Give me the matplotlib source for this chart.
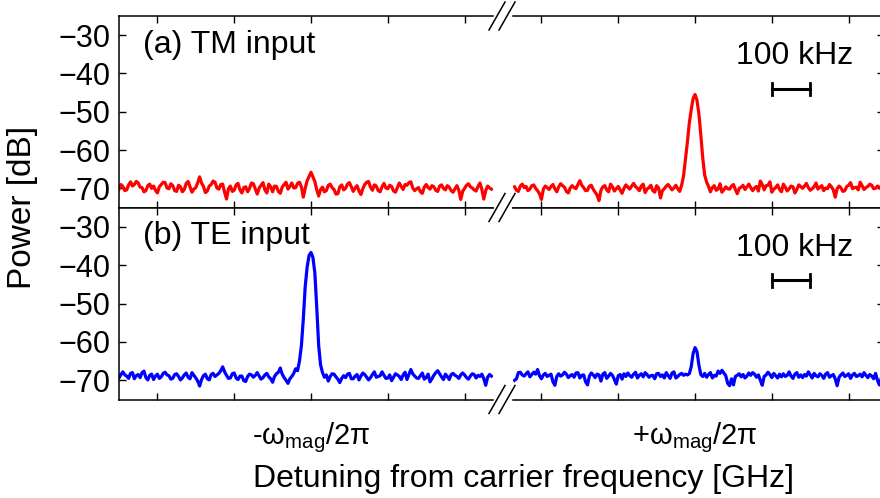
import numpy as np
import matplotlib
matplotlib.use("Agg")
import matplotlib.pyplot as plt
from matplotlib.lines import Line2D

plt.rcParams['font.family'] = ['Liberation Sans', 'DejaVu Sans']
plt.rcParams['mathtext.fontset'] = 'custom'
plt.rcParams['mathtext.rm'] = 'Liberation Sans'
plt.rcParams['mathtext.it'] = 'Liberation Sans'
plt.rcParams['mathtext.bf'] = 'Liberation Sans:bold'

# Detuning grids (kHz) around each sideband, 5 kHz steps
det_minus = np.arange(-500, 471, 5)   # around -w_mag/2pi
det_plus = np.arange(-470, 491, 5)    # around +w_mag/2pi

# (a) TM input, spectrum near -w_mag/2pi [dB]
tm_minus = [
    -70.2, -69.0, -69.5, -70.6, -70.4, -69.1, -68.3, -69.4, -69.0, -68.2,
    -68.6, -69.7, -69.8, -70.9, -70.6, -69.3, -68.9, -70.0, -69.4, -70.5,
    -71.2, -69.6, -69.0, -68.4, -68.5, -69.9, -70.1, -68.8, -69.3, -70.6,
    -70.8, -69.2, -69.6, -70.9, -70.3, -68.7, -68.2, -69.6, -71.0, -70.2,
    -69.8, -68.5, -67.0, -68.6, -69.5, -71.1, -70.7, -69.4, -69.0, -68.1,
    -68.4, -69.9, -70.2, -69.0, -68.9, -71.0, -72.8, -70.1, -69.4, -70.8,
    -70.5, -69.1, -68.7, -70.4, -71.2, -69.8, -69.6, -70.9, -70.0, -68.6,
    -68.8, -70.2, -71.5, -69.9, -69.2, -68.5, -70.4, -71.2, -68.9, -69.6,
    -70.9, -69.4, -69.5, -70.8, -71.3, -69.7, -69.0, -68.4, -70.2, -69.5,
    -68.6, -69.9, -69.8, -68.7, -68.4, -69.6, -72.3, -70.0, -68.0, -66.9,
    -65.8, -67.0, -68.2, -70.4, -72.0, -70.3, -69.7, -70.9, -70.6, -69.2,
    -68.9, -69.8, -70.3, -71.5, -71.4, -69.6, -69.1, -70.4, -70.0, -68.9,
    -68.5, -69.6, -70.8, -69.9, -69.3, -70.7, -71.6, -70.1, -69.0, -68.4,
    -68.2, -69.7, -70.5, -69.1, -69.4, -70.6, -70.9, -69.6, -68.7, -69.9,
    -70.1, -69.2, -69.5, -70.7, -71.0, -69.8, -68.6, -69.5, -70.3, -69.0,
    -69.2, -68.5, -68.3, -69.9, -70.6, -70.1, -69.8, -70.9, -71.3, -69.7,
    -69.0, -69.8, -70.2, -69.3, -69.6, -70.5, -70.8, -69.4, -69.1, -70.0,
    -70.4, -69.3, -69.7, -70.6, -71.0, -70.1, -69.3, -70.5, -72.9, -70.8,
    -70.0, -69.2, -68.8, -69.6, -69.9, -70.4, -70.7, -69.5, -68.6, -70.3,
    -72.8, -70.6, -69.4, -69.9, -70.2,
]

# (a) TM input, spectrum near +w_mag/2pi [dB]
tm_plus = [
    -69.6, -70.5, -70.8, -69.4, -68.9, -69.8, -69.5, -70.6, -70.2, -69.3,
    -69.1, -70.0, -70.6, -71.4, -72.9, -70.2, -69.4, -69.8, -70.3, -69.5,
    -69.0, -70.1, -70.9, -69.6, -68.8, -69.3, -69.7, -70.8, -71.2, -69.9,
    -69.3, -69.8, -70.1, -69.0, -68.0, -69.2, -69.8, -70.6, -70.5, -69.4,
    -69.2, -70.3, -71.0, -71.8, -73.2, -70.5, -69.6, -69.3, -70.4, -70.9,
    -68.9, -69.6, -70.7, -70.1, -69.5, -70.4, -71.3, -70.0, -69.1, -69.7,
    -70.2, -69.4, -68.7, -69.5, -70.0, -70.6, -69.4, -68.9, -71.1, -70.2,
    -69.8, -69.2, -70.6, -71.0, -69.3, -69.9, -72.5, -70.6, -70.1, -69.4,
    -69.0, -69.7, -70.4, -69.9, -69.2, -70.1, -70.8, -69.2, -66.8, -62.5,
    -58.0, -53.0, -49.5, -46.5, -45.5, -47.0, -50.5, -56.0, -62.0, -66.5,
    -68.3, -69.5, -70.9, -69.8, -69.3, -70.5, -70.2, -68.8, -71.0, -70.4,
    -69.6, -70.1, -70.2, -69.4, -69.0, -70.3, -71.4, -70.0, -69.7, -69.2,
    -70.3, -69.6, -68.9, -69.8, -70.6, -69.9, -69.5, -70.7, -68.1, -69.0,
    -70.4, -69.3, -69.2, -68.3, -71.0, -70.2, -69.8, -69.1, -70.3, -70.9,
    -68.9, -69.7, -70.7, -70.1, -69.4, -69.6, -71.2, -70.3, -69.1, -69.5,
    -70.0, -69.4, -68.7, -69.8, -70.5, -70.1, -69.6, -68.6, -70.2, -69.7,
    -69.3, -70.6, -69.9, -70.1, -69.0, -69.6, -70.4, -72.3, -70.1, -69.4,
    -69.9, -70.8, -70.6, -69.5, -69.2, -68.5, -70.1, -69.8, -69.7, -70.4,
    -68.4, -69.3, -70.3, -69.8, -69.5, -68.9, -69.2, -70.1, -70.0, -69.4,
    -69.7, -70.3, -69.5,
]

# (b) TE input, spectrum near -w_mag/2pi [dB]
te_minus = [
    -69.4, -68.5, -67.8, -68.6, -68.9, -69.5, -68.2, -68.0, -69.6, -68.8,
    -68.5, -69.3, -68.0, -67.6, -69.3, -69.9, -68.7, -68.4, -69.8, -68.9,
    -68.4, -69.5, -69.1, -68.2, -67.9, -68.6, -68.8, -69.7, -69.5, -68.5,
    -68.3, -69.0, -69.9, -69.4, -68.6, -68.1, -69.2, -69.6, -68.0, -68.7,
    -69.4, -70.2, -71.5, -69.8, -68.8, -68.4, -69.6, -69.9, -68.5, -68.2,
    -69.0, -68.6, -68.2, -67.5, -66.5, -67.8, -68.7, -69.5, -69.4, -68.3,
    -68.1, -69.4, -69.8, -68.9, -68.9, -70.1, -70.3, -69.0, -68.4, -68.6,
    -69.2, -68.7, -68.0, -68.9, -69.7, -69.3, -68.6, -68.2, -69.1, -69.6,
    -70.5, -69.0, -68.3, -67.9, -66.8, -68.4, -69.3, -70.0, -70.8, -69.6,
    -69.0, -68.2, -67.0, -67.5, -65.0, -61.0, -54.0, -45.5, -40.5, -37.5,
    -36.7, -38.0, -42.0, -51.0, -61.0, -66.0, -68.0, -69.2, -68.6, -70.2,
    -69.0, -68.3, -68.4, -69.1, -69.7, -70.6, -69.5, -68.8, -69.3, -68.4,
    -68.2, -69.6, -69.6, -68.9, -68.5, -69.9, -68.9, -68.1, -68.5, -69.2,
    -69.9, -69.3, -68.5, -67.8, -69.2, -69.0, -68.8, -67.8, -68.7, -69.5,
    -69.4, -68.6, -70.1, -69.2, -68.3, -68.6, -69.0, -69.8, -68.6, -67.9,
    -69.8, -68.5, -67.2, -68.3, -68.9, -69.4, -69.5, -68.8, -68.1, -69.7,
    -69.3, -68.4, -70.4, -69.6, -68.7, -68.0, -67.5, -68.3, -69.1, -69.8,
    -68.4, -69.0, -69.8, -68.5, -68.2, -68.7, -69.0, -69.5, -68.6, -68.1,
    -68.6, -69.3, -69.7, -68.9, -68.3, -68.5, -69.4, -68.7, -69.0, -68.4,
    -69.6, -71.3, -69.2, -68.5, -68.9,
]

# (b) TE input, spectrum near +w_mag/2pi [dB]
te_plus = [
    -70.0, -69.6, -68.0, -67.9, -68.6, -68.9, -68.3, -67.8, -69.1, -68.5,
    -67.9, -68.4, -67.2, -68.8, -69.6, -68.6, -68.2, -69.0, -68.7, -68.4,
    -70.4, -71.3, -69.0, -68.3, -68.9, -68.6, -67.9, -68.4, -69.3, -68.8,
    -68.5, -69.2, -68.1, -68.0, -69.4, -68.7, -68.6, -70.4, -71.2, -68.9,
    -68.1, -68.6, -69.3, -68.4, -68.6, -70.2, -68.4, -68.0, -69.5, -68.9,
    -68.2, -68.7, -69.8, -71.0, -68.8, -68.5, -69.7, -68.3, -69.0, -68.1,
    -68.8, -69.2, -68.4, -67.9, -69.4, -68.7, -68.3, -69.1, -68.0, -68.5,
    -69.2, -68.8, -68.7, -69.6, -68.3, -68.2, -69.0, -68.6, -69.4, -68.0,
    -68.8, -69.5, -68.1, -67.8, -69.4, -69.0, -68.5, -68.2, -68.7, -68.4,
    -68.6, -68.3, -66.5, -63.0, -61.5, -62.5, -66.0, -68.5, -69.0, -68.2,
    -69.2, -68.5, -68.0, -69.4, -68.7, -68.9, -67.6, -68.2, -67.4, -68.1,
    -68.8, -70.8, -71.4, -69.6, -71.2, -69.0, -68.7, -68.3, -69.1, -68.5,
    -69.4, -68.9, -68.1, -68.7, -68.0, -68.4, -69.2, -68.6, -70.0, -71.3,
    -69.0, -68.6, -67.9, -68.5, -69.3, -68.2, -68.8, -69.4, -68.4, -69.1,
    -68.3, -69.0, -68.7, -67.8, -68.9, -69.5, -68.4, -68.0, -69.2, -68.6,
    -69.3, -68.5, -68.9, -67.8, -68.6, -69.4, -68.2, -68.8, -69.1, -68.3,
    -68.7, -69.5, -68.4, -68.0, -69.2, -68.8, -68.5, -69.6, -71.4, -69.2,
    -68.6, -68.1, -69.0, -68.7, -68.3, -69.5, -68.6, -68.2, -69.0, -68.8,
    -68.4, -69.1, -68.0, -68.7, -69.3, -68.5, -68.9, -69.6, -68.2, -70.0,
    -71.2, -69.4, -70.3,
]

line_colors = ['#ff0000', '#0000ff']
panel_labels = ['(a) TM input', '(b) TE input']
sideband_labels = [r'-$\mathregular{\omega_{mag}}$/2π', r'+$\mathregular{\omega_{mag}}$/2π']
yticks = [-30, -40, -50, -60, -70]
xticks = [-400, -200, 0, 200, 400]
scale_bar = (200, 300)  # kHz

W, H = 880, 498
fig = plt.figure(figsize=(W / 100, H / 100), dpi=100)


def fx(px):
    return px / W


def fy(py):
    return 1 - py / H


rows = [(16, 207.5), (207.5, 399.5)]
cols = [(119, 493), (513, 884)]
xlims = [(-500, 474), (-474, 492)]

series = [[tm_minus, tm_plus], [te_minus, te_plus]]
grids = [det_minus, det_plus]

for r, (ytop, ybot) in enumerate(rows):
    for c, (xl, xr) in enumerate(cols):
        ax = fig.add_axes([fx(xl), fy(ybot), fx(xr - xl), fy(ytop) - fy(ybot)])
        ax.plot(grids[c], series[r][c], color=line_colors[r], lw=2.3)
        ax.set_xlim(*xlims[c])
        ax.set_ylim(-75, -25)
        for s in ax.spines.values():
            s.set_linewidth(1.1)
        ax.set_xticks(xticks)
        ax.set_yticks(yticks)
        ax.tick_params(direction='in', length=5, width=1.0, top=True, bottom=True,
                       labelsize=22, pad=6)
        if c == 0:
            ax.spines['right'].set_visible(False)
            ax.tick_params(axis='y', left=True, right=False)
        else:
            ax.spines['left'].set_visible(False)
            ax.tick_params(axis='y', left=False, right=True, labelleft=False)
        if r == 1:
            labs = ['', '', sideband_labels[c], '', '']
            ax.set_xticklabels(labs)
            ax.tick_params(axis='x', labelsize=21, pad=15)
        else:
            ax.set_xticklabels([])
        if c == 0:
            ax.text(0.064, 0.85, panel_labels[r], transform=ax.transAxes,
                    fontsize=23, ha='left', va='center')
        else:
            ax.plot(scale_bar, [-44, -44], color='black', lw=2.2)
            for xb in scale_bar:
                ax.plot([xb, xb], [-45.6, -42.4], color='black', lw=2.0)
            ax.text(np.mean(scale_bar) + 8, -35.5, '100 kHz', fontsize=23,
                    ha='center', va='center')

# axis-break marks
for yb in (16, 207.5, 399.5):
    for x0 in (489, 499):
        fig.add_artist(Line2D([fx(x0), fx(x0 + 16)], [fy(yb + 14), fy(yb - 14)],
                              color='black', lw=1.1, transform=fig.transFigure))

fig.text(fx(22), fy(207), 'Power [dB]', rotation=90, fontsize=24,
         ha='center', va='center')
fig.text(fx(523), fy(479), 'Detuning from carrier frequency [GHz]', fontsize=23,
         ha='center', va='center')

fig.savefig('out.png', dpi=100)
